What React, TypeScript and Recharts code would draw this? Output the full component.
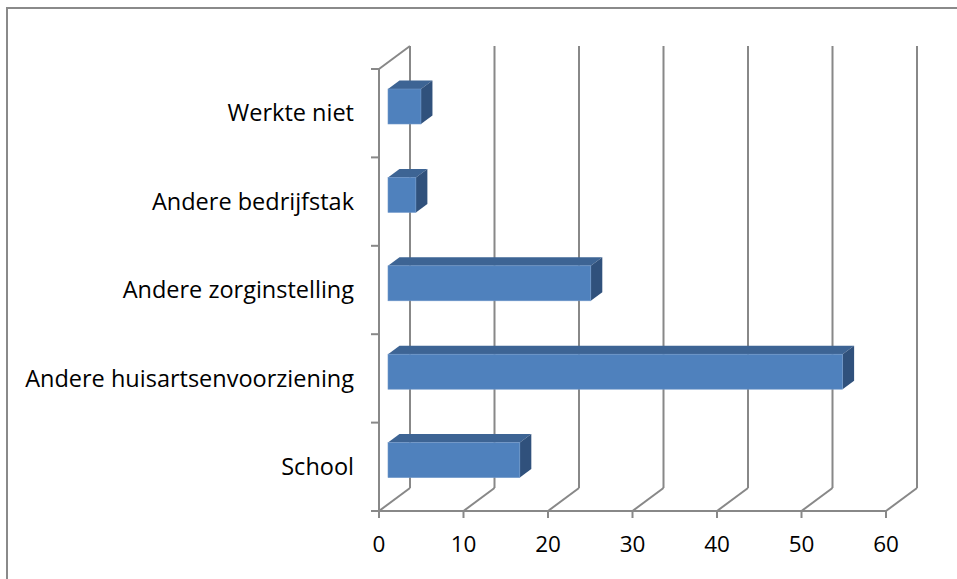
import React from 'react';
import { BarChart, Bar, XAxis, YAxis, CartesianGrid } from 'recharts';

// categories listed top to bottom, as in the picture
const categories = [
  'Werkte niet',
  'Andere bedrijfstak',
  'Andere zorginstelling',
  'Andere huisartsenvoorziening',
  'School',
];
const values = [3.9, 3.3, 24.0, 53.8, 15.6];
const xTicks = [0, 10, 20, 30, 40, 50, 60];

const W = 957;
const H = 579;
const TOP = 69;
const RIGHT = 71;
const LEFT = 379;
const X_AXIS_H = 68;
const PLOT_H = H - TOP - X_AXIS_H;
const BAND = PLOT_H / categories.length;

// 3D projection: depth of the whole chart, and where the bars sit in it
const DX = 31;
const DY = 23;
const BAR_X = 9;
const BAR_Y = 7;
const BAR_DX = 11.5;
const BAR_DY = 8.5;

const GRID = '#888888';
const FONT = '"Open Sans", sans-serif';

const rows = categories.map((name, i) => ({ name, value: values[i] }));

function WallLine(props: any) {
  const { x1, y1, y2, x } = props;
  const first = Math.abs(x1 - x) < 1;
  return (
    <g>
      <line x1={x1 + DX} y1={y1 - DY} x2={x1 + DX} y2={y2 - DY} stroke={GRID} strokeWidth={2} />
      <line x1={x1} y1={y2} x2={x1 + DX} y2={y2 - DY} stroke={GRID} strokeWidth={2} />
      {first && (
        <line x1={x1} y1={y1} x2={x1 + DX} y2={y1 - DY} stroke={GRID} strokeWidth={2} />
      )}
    </g>
  );
}

function CategoryTick(props: any) {
  const { y, payload, index } = props;
  return (
    <g>
      <line x1={LEFT - 8} y1={y - BAND / 2} x2={LEFT} y2={y - BAND / 2} stroke={GRID} strokeWidth={2} />
      {index === categories.length - 1 && (
        <line x1={LEFT - 8} y1={y + BAND / 2} x2={LEFT} y2={y + BAND / 2} stroke={GRID} strokeWidth={2} />
      )}
      <text
        x={LEFT - 25}
        y={y}
        dy="0.35em"
        textAnchor="end"
        fontFamily={FONT}
        fontSize={23.5}
        fill="#000"
      >
        {payload.value}
      </text>
    </g>
  );
}

function Box(props: any) {
  const { x, y, width, height } = props;
  if (!width || width <= 0) return null;
  const fx = x + BAR_X;
  const fy = y - BAR_Y;
  const top = `${fx},${fy} ${fx + BAR_DX},${fy - BAR_DY} ${fx + width + BAR_DX},${fy - BAR_DY} ${fx + width},${fy}`;
  const side = `${fx + width},${fy} ${fx + width + BAR_DX},${fy - BAR_DY} ${fx + width + BAR_DX},${fy + height - BAR_DY} ${fx + width},${fy + height}`;
  return (
    <g>
      <polygon points={top} fill="#3D6494" />
      <polygon points={side} fill="#30517C" />
      <rect x={fx} y={fy} width={width} height={height} fill="#4F81BD" stroke="#6E96C8" strokeWidth={0.6} />
    </g>
  );
}

export default function App() {
  return (
    <div style={{ position: 'absolute', left: 0, top: 0, width: W, height: H, overflow: 'hidden', background: '#fff' }}>
      <div
        style={{
          position: 'absolute',
          left: 6,
          top: 7,
          width: 1200,
          height: 1200,
          border: '2px solid #8a8a8a',
        }}
      />
      <div style={{ position: 'absolute', left: 0, top: 0 }}>
        <BarChart
          layout="vertical"
          width={W}
          height={H}
          data={rows}
          margin={{ top: TOP, right: RIGHT, bottom: 0, left: 0 }}
          barSize={35}
        >
          <CartesianGrid horizontal={false} vertical={(p: any) => <WallLine key={p.key} {...p} />} />
          <XAxis
            type="number"
            domain={[0, 60]}
            ticks={xTicks}
            interval={0}
            height={X_AXIS_H}
            axisLine={{ stroke: GRID, strokeWidth: 2 }}
            tickLine={{ stroke: GRID, strokeWidth: 2 }}
            tickSize={7}
            tickMargin={18}
            tick={{ fontFamily: FONT, fontSize: 22.5, fill: '#000' }}
          />
          <YAxis
            type="category"
            dataKey="name"
            width={LEFT}
            interval={0}
            axisLine={{ stroke: GRID, strokeWidth: 2 }}
            tickLine={false}
            tick={<CategoryTick />}
          />
          <Bar dataKey="value" shape={<Box />} isAnimationActive={false} />
        </BarChart>
      </div>
    </div>
  );
}
